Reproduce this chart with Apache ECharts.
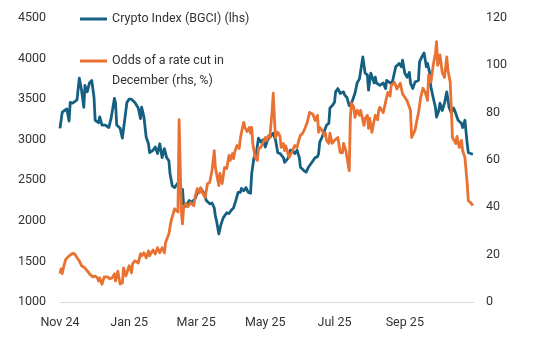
<!DOCTYPE html>
<html>
<head>
<meta charset="utf-8">
<script src="https://cdn.jsdelivr.net/npm/echarts@6/dist/echarts.min.js"></script>
<style>
  html, body { margin: 0; padding: 0; background: #ffffff; }
  #chart { width: 543px; height: 344px; }
</style>
</head>
<body>
<div id="chart"></div>
<script>
// Days are counted from 1 Nov 2024.
const tickDays = [0, 61, 120, 181, 242, 304];
const tickLabels = ['Nov 24', 'Jan 25', 'Mar 25', 'May 25', 'Jul 25', 'Sep 25'];

const seriesNames = ['Crypto Index (BGCI) (lhs)', 'Odds of a rate cut in\nDecember (rhs, %)'];

// Bloomberg Galaxy Crypto Index level: [day, index]
const cryptoIndex = [
  [0,3140],[2,3340],[4,3360],[6,3380],[8,3230],[9,3460],[11,3450],[13,3470],[15,3490],[17,3760],
  [19,3610],[21,3400],[22,3670],[24,3590],[26,3700],[28,3730],[30,3520],[31,3240],[34,3210],[35,3280],
  [37,3180],[40,3180],[43,3150],[45,3260],[48,3510],[49,3450],[50,3180],[53,3140],[55,3020],[57,3240],
  [59,3460],[61,3500],[63,3500],[66,3460],[69,3390],[71,3260],[72,3400],[74,3280],[76,3030],[78,2950],
  [79,2840],[82,2870],[84,2910],[86,2830],[88,2950],[90,2780],[92,2890],[94,2780],[96,2740],[97,2580],
  [99,2430],[101,2410],[104,2470],[106,2400],[108,2390],[109,2200],[111,2180],[114,2250],[116,2230],[119,2270],
  [121,2340],[123,2370],[124,2400],[127,2340],[129,2250],[130,2270],[132,2210],[134,2220],[136,2160],[137,2060],
  [138,2000],[140,1840],[142,1960],[144,2040],[145,2060],[147,2100],[149,2090],[151,2130],[153,2160],[155,2250],
  [157,2350],[159,2350],[160,2400],[162,2370],[164,2410],[166,2350],[168,2340],[169,2580],[171,2780],[173,2830],
  [175,3020],[177,2970],[179,3000],[181,2910],[183,3000],[185,3030],[188,3080],[190,3000],[192,2840],[194,2830],
  [197,2780],[198,2720],[201,2770],[203,2870],[205,2870],[207,2830],[209,2870],[211,2780],[212,2660],[213,2680],
  [215,2620],[217,2600],[219,2660],[220,2680],[222,2720],[225,2780],[227,2790],[228,2830],[229,2970],[231,3030],
  [234,3140],[235,3180],[237,3200],[238,3390],[240,3420],[242,3460],[243,3590],[245,3630],[247,3570],[250,3590],
  [251,3550],[253,3520],[255,3420],[257,3450],[258,3490],[260,3570],[262,3700],[264,3750],[265,3770],[267,4020],
  [269,3820],[271,3800],[272,3610],[274,3820],[277,3700],[278,3770],[279,3700],[282,3670],[285,3700],[287,3630],
  [288,3730],[291,3700],[293,3710],[294,3730],[296,3900],[299,3940],[301,3900],[302,3980],[304,3820],[306,3770],
  [308,3830],[309,3700],[311,3630],[313,3710],[316,3730],[317,3960],[319,4020],[321,4070],[323,3900],[324,3940],
  [326,3820],[327,3650],[329,3520],[331,3400],[332,3280],[334,3360],[335,3450],[337,3360],[339,3450],[341,3590],
  [343,3400],[345,3330],[347,3390],[348,3360],[351,3240],[354,3200],[355,3150],[357,3240],[359,2950],[360,2840],
  [362,2830],[364,2820]
];

// Market-implied probability of a December cut, %: [day, odds]
const rateCutOdds = [
  [0,12],[1,14],[2,12],[3,14.4],[4,14],[5,18],[8,19.5],[11,20.5],[13,20.3],[15,18.7],
  [17,17.4],[19,15.3],[22,14.4],[24,13.1],[26,11.9],[27,12.3],[29,10.6],[31,11],[33,10.2],[34,8.9],
  [35,10.2],[37,7.5],[39,10.6],[40,9.8],[42,10.6],[44,9.8],[46,10.2],[48,11.9],[49,8.9],[51,13],
  [53,7.6],[55,8],[56,14.4],[58,11],[61,15.3],[63,12.3],[64,16.1],[66,17.4],[69,16.5],[71,20.4],
  [72,19.5],[74,20.8],[76,18.7],[78,21.6],[79,19.5],[82,22],[84,20.3],[86,22.9],[88,20.8],[90,22.9],
  [92,20.8],[93,25],[96,28.8],[98,34.3],[101,39.4],[102,39.4],[104,38],[105,77],[107,38],[108,33],
  [109,39.9],[111,41.6],[113,40.3],[115,42],[116,42.8],[118,40.7],[119,44.1],[121,47.9],[123,46.2],[124,48.3],
  [126,45.8],[128,44.1],[129,47],[130,50],[132,50.5],[134,55.5],[136,64],[137,56.8],[138,54.3],[140,49.2],
  [141,54.3],[143,50],[145,56.8],[147,56.4],[149,61.9],[150,59.8],[152,62.7],[153,60.6],[154,63.2],[156,66.1],
  [158,64.9],[159,69.1],[160,71.7],[162,75.9],[163,73.8],[165,72],[167,73.8],[168,71.3],[169,73.8],[170,67],
  [172,61],[174,59.8],[175,64.9],[177,65.3],[179,67.4],[181,69.5],[182,68.3],[184,70.4],[185,69.5],[187,80.6],
  [188,88.2],[189,78],[190,69.5],[192,71.7],[194,70],[195,65.3],[197,67],[198,64],[199,66],[202,61],
  [203,62],[205,64],[207,66.1],[209,65.3],[211,69.1],[212,70.4],[214,71.3],[216,73.4],[218,75.9],[220,80.1],
  [221,79.5],[223,79.3],[225,76.7],[227,78.9],[228,71.7],[229,73.8],[231,72.5],[233,70.4],[234,71.3],[235,68.3],
  [237,67],[238,71.3],[240,67],[242,68.3],[245,69.5],[247,63.2],[249,63],[250,67],[252,64],[255,55.5],
  [256,78],[257,84],[259,82.3],[260,78],[262,81],[264,78.9],[265,81],[267,76.7],[268,74.6],[269,77.6],
  [271,78.9],[272,73.4],[273,77.6],[275,71.7],[277,76.7],[278,78.9],[280,77],[281,81],[282,82.3],[285,80],
  [287,84.4],[289,88.6],[291,87],[292,91.5],[295,92.8],[297,90],[300,92.4],[302,88],[304,86.5],[306,85],
  [309,81],[310,69.5],[313,72.5],[315,77.6],[316,79.7],[318,86.5],[320,90.3],[322,88.6],[324,85.2],[325,96],
  [327,92.8],[329,100],[331,105],[332,110],[333,100],[335,104.4],[337,97],[339,94.9],[341,103.6],[342,98],
  [344,93],[345,82],[346,69.5],[347,70],[349,67],[350,70],[352,65.3],[354,68.3],[355,64],[357,61],
  [359,50],[360,42.8],[362,42],[364,40.7]
];

const BLUE = '#156082';
const ORANGE = '#E97132';
const FONT = 'Roboto, "Liberation Sans", sans-serif';
const TEXT = '#333333';
const LINE_ICON = 'path://M0,0 L27,0 L27,3 L0,3 Z';

const chart = echarts.init(document.getElementById('chart'), null, { renderer: 'canvas' });

chart.setOption({
  animation: false,
  backgroundColor: '#ffffff',
  textStyle: { fontFamily: FONT },
  grid: { left: 60, right: 69, top: 18, bottom: 42, containLabel: false },
  legend: [
    {
      data: [seriesNames[0]],
      left: 80, top: 11, padding: 0,
      icon: LINE_ICON, itemWidth: 27, itemHeight: 3,
      textStyle: { fontFamily: FONT, fontSize: 12.5, color: TEXT, lineHeight: 16 }
    },
    {
      // A blank first line keeps the key line level with the first text line.
      data: [seriesNames[1]],
      left: 80, top: 31, padding: 0,
      icon: LINE_ICON, itemWidth: 27, itemHeight: 3,
      formatter: name => ' \n' + name,
      textStyle: { fontFamily: FONT, fontSize: 12.5, color: TEXT, lineHeight: 20 }
    }
  ],
  xAxis: {
    type: 'value',
    min: 0,
    max: 365,
    axisLine: { onZero: false, lineStyle: { color: '#D9D9D9', width: 1 } },
    axisTick: { show: false },
    splitLine: { show: false },
    axisLabel: {
      customValues: tickDays,
      formatter: v => tickLabels[tickDays.indexOf(v)],
      margin: 14,
      fontFamily: FONT, fontSize: 12.5, color: TEXT
    }
  },
  yAxis: [
    {
      type: 'value', min: 1000, max: 4500, interval: 500,
      axisLine: { show: false }, axisTick: { show: false }, splitLine: { show: false },
      axisLabel: { margin: 14, formatter: v => String(v), fontFamily: FONT, fontSize: 12.5, color: TEXT }
    },
    {
      type: 'value', min: 0, max: 120, interval: 20, position: 'right',
      axisLine: { show: false }, axisTick: { show: false }, splitLine: { show: false },
      axisLabel: { margin: 12, formatter: v => String(v), fontFamily: FONT, fontSize: 12.5, color: TEXT }
    }
  ],
  series: [
    {
      name: seriesNames[0], type: 'line', yAxisIndex: 0,
      data: cryptoIndex, symbol: 'none',
      lineStyle: { color: BLUE, width: 2.8, join: 'round' },
      itemStyle: { color: BLUE }
    },
    {
      name: seriesNames[1], type: 'line', yAxisIndex: 1,
      data: rateCutOdds, symbol: 'none',
      lineStyle: { color: ORANGE, width: 2.8, join: 'round' },
      itemStyle: { color: ORANGE }
    }
  ]
});
</script>
</body>
</html>
